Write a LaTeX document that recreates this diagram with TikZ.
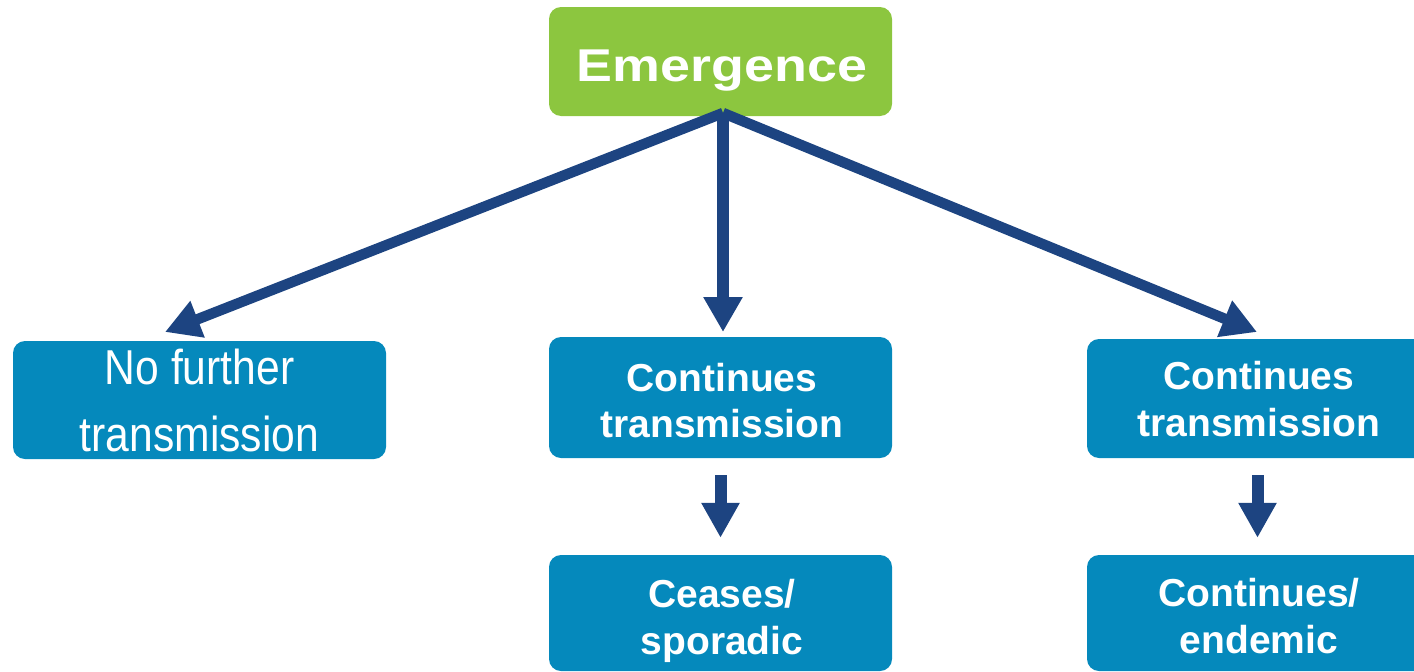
\documentclass[tikz,border=0pt]{standalone}
\usepackage{fontspec}
\setmainfont{Liberation Sans}
\newfontfamily\narrowfont[FakeStretch=0.87]{Liberation Sans}
\newfontfamily\widefont[FakeStretch=1.17]{Liberation Sans}
\usetikzlibrary{arrows.meta}
\definecolor{emgreen}{HTML}{8CC63F}
\definecolor{boxblue}{HTML}{0589BC}
\definecolor{navy}{HTML}{1D4481}
\tikzset{
  box/.style={fill=boxblue, rounded corners=12pt, inner sep=0pt, draw=none},
  greenbox/.style={fill=emgreen, rounded corners=12pt, inner sep=0pt, draw=none},
  boldtxt/.style={text=white, align=center, inner sep=0pt, font=\fontsize{39}{46.5}\selectfont\bfseries},
  bigarrow/.style={draw=navy, line width=10.5pt, -{Triangle[width=37pt,length=35pt]}},
  smallarrow/.style={draw=navy, line width=12pt, -{Triangle[width=36pt,length=35pt]}, shorten <=17pt, shorten >=17pt}
}
\begin{document}
\begin{tikzpicture}[x=1pt,y=-1pt]
\useasboundingbox (0,0) rectangle (1414,672);
\clip (0,0) rectangle (1414,672);
% boxes
\node[greenbox, minimum width=343pt, minimum height=109pt] (em) at (720.5,61.5) {};
\node[box, minimum width=373pt, minimum height=118pt] (nf) at (199.5,400) {};
\node[box, minimum width=343pt, minimum height=121pt] (ct1) at (720.5,397.5) {};
\node[box, minimum width=343pt, minimum height=116pt] (cs) at (720.5,613) {};
\node[box, minimum width=344pt, minimum height=119pt] (ct2) at (1259,398.5) {};
\node[box, minimum width=344pt, minimum height=116pt] (ce) at (1259,613) {};
% texts
\node[text=white, inner sep=0pt, font=\widefont\fontsize{46}{50}\selectfont\bfseries] (emt) at (722,70.8) {Emergence};
\node[text=white, align=center, inner sep=0pt, font=\narrowfont\fontsize{49}{67}\selectfont] (nft) at (199.5,400.6) {No further\\transmission};
\node[boldtxt] (ct1t) at (722,400.8) {Continues\\transmission};
\node[boldtxt] (cst) at (722,621) {Ceases/\\sporadic};
\node[boldtxt] (ct2t) at (1259,399) {Continues\\transmission};
\node[boldtxt] (cet) at (1259,616.3) {Continues/\\endemic};
% connectors
\coordinate (top) at (723,113);
\coordinate (tL) at (165,332);
\coordinate (tM) at (723,332);
\coordinate (tR) at (1257,332);
\draw[bigarrow] (top) -- (tL);
\draw[bigarrow] (top) -- (tR);
\draw[bigarrow, line width=12pt] (top) -- (tM);
\draw[smallarrow] (ct1.south) -- (cs.north);
\draw[smallarrow] ([xshift=-1.5pt]ct2.south) -- ([xshift=-1.5pt]ce.north);
\end{tikzpicture}
\end{document}
